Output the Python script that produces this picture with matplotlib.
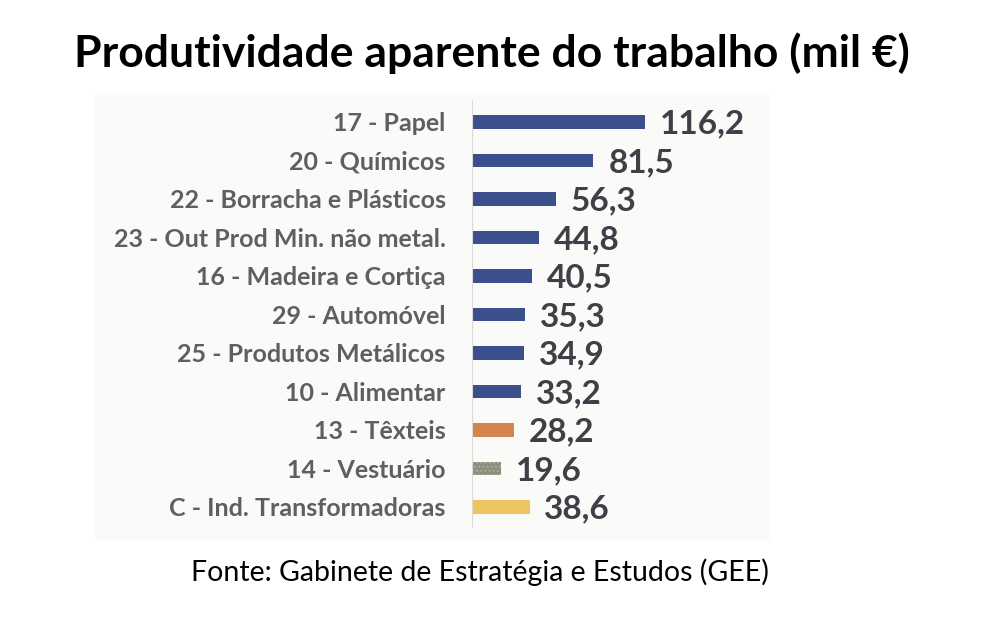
import matplotlib
matplotlib.use('Agg')
import matplotlib.pyplot as plt
from matplotlib.patches import Rectangle

# dados
categorias = ['17 - Papel', '20 - Químicos', '22 - Borracha e Plásticos',
              '23 - Out Prod Min. não metal.', '16 - Madeira e Cortiça',
              '29 - Automóvel', '25 - Produtos Metálicos', '10 - Alimentar',
              '13 - Têxteis', '14 - Vestuário', 'C - Ind. Transformadoras']
valores = [116.2, 81.5, 56.3, 44.8, 40.5, 35.3, 34.9, 33.2, 28.2, 19.6, 38.6]
cores = ['#3b4f8c'] * 8 + ['#d5834f', '#8b8f7c', '#ecc561']

titulo = 'Produtividade aparente do trabalho (mil €)'
fonte = 'Fonte: Gabinete de Estratégia e Estudos (GEE)'

plt.rcParams['font.family'] = ['Lato', 'DejaVu Sans']

fig = plt.figure(figsize=(10, 6.22), dpi=100)
fig.patch.set_facecolor('white')

# painel de fundo do gráfico
fig.patches.append(Rectangle((0.095, 1 - 540 / 622), 0.675, 445 / 622,
                             transform=fig.transFigure, facecolor='#fafaf8',
                             edgecolor='none', zorder=-1))

ax = fig.add_axes([0.472, 1 - 527 / 622, 0.298, 427 / 622])
ax.set_facecolor('none')
ax.set_zorder(2)

pos = list(range(len(categorias)))
bars = ax.barh(pos, valores, height=0.36, color=cores)
bars[9].set_hatch('....')
bars[9].set_edgecolor('#a8ad98')
bars[9].set_linewidth(0)

for p, v in zip(pos, valores):
    ax.text(v + 10, p + 0.05, f'{v:.1f}'.replace('.', ','), va='center', ha='left',
            fontsize=24, fontweight='bold', color='#3f4047')

ax.set_xlim(0, 200)
ax.set_ylim(10.52, -0.57)
ax.set_yticks(pos)
ax.set_yticklabels(categorias, fontsize=18, fontweight='bold', color='#5f5f5f')
ax.tick_params(axis='y', length=0, pad=19)
ax.set_xticks([])
for s in ['top', 'right', 'bottom']:
    ax.spines[s].set_visible(False)
ax.spines['left'].set_color('#d9d9d9')

fig.text(0.492, 1 - 53 / 622, titulo, ha='center', va='center',
         fontsize=32, fontweight='bold', color='black')
fig.text(0.48, 1 - 572 / 622, fonte, ha='center', va='center',
         fontsize=20.5, color='black')

fig.savefig('out.png', dpi=100)
